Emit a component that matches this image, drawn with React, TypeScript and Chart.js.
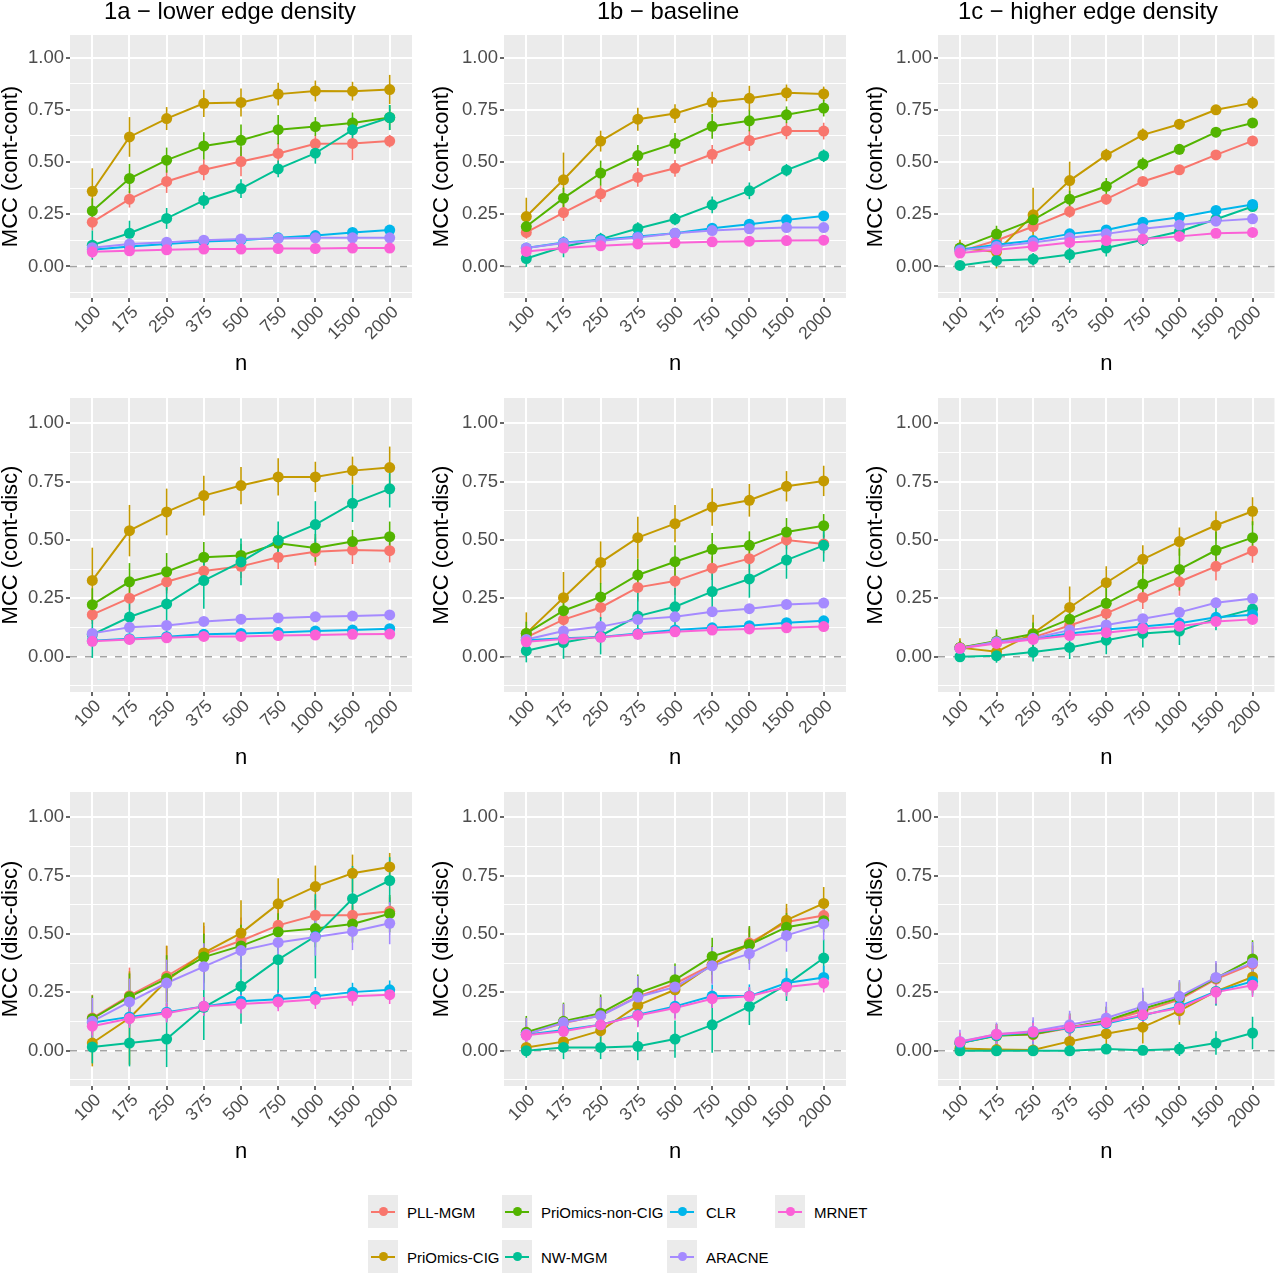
import React, { useEffect, useRef } from "react";
import { Chart, registerables } from "chart.js";

Chart.register(...registerables);

const FONT = '"Liberation Sans", Arial, Helvetica, sans-serif';

// sample sizes on the x axis
const N_LABELS = ["100", "175", "250", "375", "500", "750", "1000", "1500", "2000"];
const METHODS = ["PLL-MGM", "PriOmics-CIG", "PriOmics-non-CIG", "NW-MGM", "CLR", "ARACNE", "MRNET"];
const COLORS = ["#F8766D", "#C49A00", "#53B400", "#00C094", "#00B6EB", "#A58AFF", "#FB61D7"];

const Y_MIN = -0.151;
const Y_MAX = 1.108;
const Y_GRID = [-0.125, 0, 0.125, 0.25, 0.375, 0.5, 0.625, 0.75, 0.875, 1.0];

const COL_TITLES = ["1a \u2212 lower edge density", "1b \u2212 baseline", "1c \u2212 higher edge density"];
const ROW_TITLES = ["MCC (cont-cont)", "MCC (cont-disc)", "MCC (disc-disc)"];

// mean MCC, rows follow METHODS order
const CC_LOW = [
  [0.212, 0.322, 0.407, 0.463, 0.502, 0.541, 0.587, 0.589, 0.600],
  [0.360, 0.620, 0.708, 0.781, 0.785, 0.825, 0.840, 0.839, 0.847],
  [0.266, 0.421, 0.509, 0.577, 0.604, 0.655, 0.670, 0.687, 0.713],
  [0.102, 0.159, 0.230, 0.316, 0.373, 0.467, 0.542, 0.654, 0.713],
  [0.080, 0.095, 0.108, 0.120, 0.126, 0.137, 0.148, 0.163, 0.174],
  [0.090, 0.107, 0.116, 0.126, 0.131, 0.134, 0.137, 0.137, 0.137],
  [0.070, 0.075, 0.080, 0.083, 0.083, 0.086, 0.086, 0.088, 0.088],
];
const CC_LOW_ERR = [
  [0.04, 0.04, 0.055, 0.05, 0.07, 0.05, 0.04, 0.08, 0.03],
  [0.11, 0.095, 0.055, 0.065, 0.067, 0.055, 0.05, 0.045, 0.07],
  [0.06, 0.07, 0.06, 0.065, 0.075, 0.07, 0.045, 0.05, 0.06],
  [0.07, 0.06, 0.05, 0.04, 0.045, 0.04, 0.05, 0.06, 0.06],
  [0.02, 0.015, 0.015, 0.015, 0.015, 0.015, 0.015, 0.015, 0.015],
  [0.02, 0.015, 0.015, 0.015, 0.015, 0.015, 0.015, 0.015, 0.015],
  [0.03, 0.015, 0.01, 0.01, 0.01, 0.01, 0.01, 0.01, 0.01],
];

const CC_BASE = [
  [0.163, 0.258, 0.348, 0.426, 0.470, 0.537, 0.603, 0.649, 0.648],
  [0.239, 0.415, 0.600, 0.705, 0.732, 0.786, 0.805, 0.831, 0.826],
  [0.191, 0.327, 0.447, 0.531, 0.589, 0.671, 0.697, 0.726, 0.758],
  [0.038, 0.094, 0.131, 0.182, 0.227, 0.295, 0.362, 0.461, 0.530],
  [0.088, 0.115, 0.128, 0.144, 0.159, 0.183, 0.202, 0.223, 0.242],
  [0.088, 0.112, 0.123, 0.139, 0.159, 0.172, 0.180, 0.186, 0.186],
  [0.072, 0.088, 0.099, 0.108, 0.113, 0.118, 0.121, 0.124, 0.126],
];
const CC_BASE_ERR = [
  [0.03, 0.04, 0.04, 0.045, 0.04, 0.045, 0.05, 0.04, 0.04],
  [0.09, 0.13, 0.05, 0.055, 0.045, 0.05, 0.06, 0.04, 0.035],
  [0.04, 0.05, 0.06, 0.05, 0.05, 0.06, 0.05, 0.04, 0.04],
  [0.04, 0.05, 0.03, 0.03, 0.03, 0.04, 0.04, 0.03, 0.03],
  [0.015, 0.015, 0.015, 0.015, 0.015, 0.015, 0.015, 0.015, 0.015],
  [0.015, 0.015, 0.015, 0.015, 0.015, 0.015, 0.015, 0.015, 0.015],
  [0.01, 0.01, 0.01, 0.01, 0.01, 0.01, 0.01, 0.01, 0.01],
];

const CC_HIGH = [
  [0.072, 0.124, 0.191, 0.263, 0.322, 0.407, 0.463, 0.534, 0.601],
  [0.088, 0.070, 0.247, 0.411, 0.533, 0.630, 0.681, 0.750, 0.783],
  [0.088, 0.155, 0.223, 0.322, 0.384, 0.491, 0.561, 0.643, 0.687],
  [0.005, 0.029, 0.035, 0.057, 0.088, 0.128, 0.167, 0.226, 0.287],
  [0.080, 0.104, 0.124, 0.156, 0.175, 0.212, 0.236, 0.268, 0.297],
  [0.077, 0.096, 0.115, 0.137, 0.156, 0.180, 0.198, 0.217, 0.228],
  [0.064, 0.080, 0.096, 0.115, 0.124, 0.131, 0.144, 0.159, 0.163],
];
const CC_HIGH_ERR = [
  [0.02, 0.03, 0.03, 0.03, 0.025, 0.02, 0.02, 0.02, 0.02],
  [0.04, 0.08, 0.13, 0.09, 0.03, 0.03, 0.025, 0.02, 0.03],
  [0.03, 0.04, 0.04, 0.04, 0.04, 0.03, 0.025, 0.025, 0.02],
  [0.02, 0.03, 0.03, 0.04, 0.04, 0.03, 0.03, 0.03, 0.02],
  [0.015, 0.015, 0.015, 0.015, 0.015, 0.015, 0.015, 0.015, 0.015],
  [0.015, 0.015, 0.015, 0.015, 0.015, 0.015, 0.015, 0.015, 0.015],
  [0.015, 0.015, 0.015, 0.015, 0.015, 0.015, 0.015, 0.015, 0.015],
];

const CD_LOW = [
  [0.180, 0.251, 0.321, 0.367, 0.387, 0.426, 0.450, 0.457, 0.454],
  [0.327, 0.540, 0.620, 0.690, 0.733, 0.770, 0.770, 0.797, 0.810],
  [0.223, 0.321, 0.364, 0.426, 0.434, 0.486, 0.466, 0.493, 0.514],
  [0.095, 0.170, 0.226, 0.326, 0.406, 0.499, 0.566, 0.657, 0.719],
  [0.069, 0.077, 0.086, 0.096, 0.100, 0.104, 0.110, 0.114, 0.120],
  [0.100, 0.126, 0.134, 0.151, 0.161, 0.166, 0.171, 0.174, 0.179],
  [0.066, 0.074, 0.081, 0.087, 0.087, 0.091, 0.093, 0.096, 0.097],
];
const CD_LOW_ERR = [
  [0.04, 0.05, 0.05, 0.04, 0.05, 0.05, 0.06, 0.06, 0.05],
  [0.14, 0.11, 0.1, 0.085, 0.08, 0.08, 0.065, 0.06, 0.09],
  [0.07, 0.08, 0.08, 0.065, 0.05, 0.05, 0.06, 0.05, 0.065],
  [0.1, 0.07, 0.12, 0.12, 0.1, 0.08, 0.1, 0.08, 0.08],
  [0.015, 0.015, 0.015, 0.015, 0.015, 0.015, 0.015, 0.015, 0.015],
  [0.015, 0.015, 0.015, 0.015, 0.015, 0.015, 0.015, 0.015, 0.015],
  [0.015, 0.015, 0.015, 0.015, 0.015, 0.015, 0.015, 0.015, 0.015],
];

const CD_BASE = [
  [0.083, 0.159, 0.211, 0.297, 0.324, 0.379, 0.420, 0.500, 0.483],
  [0.100, 0.253, 0.404, 0.510, 0.570, 0.641, 0.670, 0.730, 0.753],
  [0.100, 0.197, 0.256, 0.350, 0.407, 0.460, 0.477, 0.534, 0.561],
  [0.026, 0.061, 0.090, 0.174, 0.214, 0.279, 0.333, 0.414, 0.477],
  [0.071, 0.079, 0.085, 0.100, 0.114, 0.124, 0.133, 0.146, 0.154],
  [0.074, 0.110, 0.129, 0.160, 0.171, 0.193, 0.206, 0.224, 0.230],
  [0.064, 0.076, 0.083, 0.096, 0.107, 0.114, 0.119, 0.124, 0.129],
];
const CD_BASE_ERR = [
  [0.04, 0.05, 0.05, 0.06, 0.06, 0.05, 0.06, 0.04, 0.04],
  [0.09, 0.11, 0.09, 0.09, 0.08, 0.08, 0.07, 0.065, 0.065],
  [0.05, 0.06, 0.06, 0.07, 0.07, 0.07, 0.06, 0.06, 0.05],
  [0.05, 0.07, 0.08, 0.1, 0.08, 0.09, 0.08, 0.08, 0.07],
  [0.015, 0.015, 0.015, 0.015, 0.015, 0.015, 0.015, 0.015, 0.015],
  [0.02, 0.02, 0.02, 0.02, 0.02, 0.02, 0.02, 0.02, 0.02],
  [0.015, 0.015, 0.015, 0.015, 0.015, 0.015, 0.015, 0.015, 0.015],
];

const CD_HIGH = [
  [0.039, 0.064, 0.083, 0.134, 0.186, 0.254, 0.321, 0.387, 0.453],
  [0.039, 0.021, 0.100, 0.211, 0.317, 0.417, 0.493, 0.563, 0.623],
  [0.039, 0.067, 0.097, 0.161, 0.229, 0.311, 0.374, 0.456, 0.510],
  [0.000, 0.004, 0.020, 0.040, 0.071, 0.100, 0.110, 0.163, 0.204],
  [0.036, 0.061, 0.077, 0.100, 0.117, 0.129, 0.143, 0.169, 0.180],
  [0.036, 0.064, 0.079, 0.114, 0.136, 0.163, 0.190, 0.231, 0.249],
  [0.036, 0.057, 0.074, 0.091, 0.103, 0.120, 0.131, 0.151, 0.160],
];
const CD_HIGH_ERR = [
  [0.03, 0.04, 0.04, 0.05, 0.05, 0.05, 0.06, 0.06, 0.05],
  [0.04, 0.04, 0.08, 0.09, 0.07, 0.06, 0.06, 0.06, 0.06],
  [0.03, 0.05, 0.05, 0.07, 0.07, 0.08, 0.09, 0.08, 0.07],
  [0.02, 0.03, 0.04, 0.05, 0.06, 0.06, 0.06, 0.05, 0.05],
  [0.015, 0.015, 0.015, 0.015, 0.015, 0.015, 0.015, 0.015, 0.015],
  [0.02, 0.02, 0.02, 0.02, 0.02, 0.02, 0.02, 0.02, 0.02],
  [0.015, 0.015, 0.015, 0.015, 0.015, 0.015, 0.015, 0.015, 0.015],
];

const DD_LOW = [
  [0.140, 0.236, 0.319, 0.414, 0.471, 0.537, 0.580, 0.580, 0.597],
  [0.033, 0.140, 0.300, 0.419, 0.504, 0.629, 0.703, 0.760, 0.787],
  [0.137, 0.231, 0.309, 0.401, 0.449, 0.509, 0.523, 0.543, 0.587],
  [0.016, 0.033, 0.050, 0.186, 0.276, 0.390, 0.490, 0.651, 0.729],
  [0.120, 0.145, 0.165, 0.190, 0.212, 0.221, 0.233, 0.251, 0.261],
  [0.126, 0.209, 0.290, 0.360, 0.429, 0.464, 0.487, 0.511, 0.546],
  [0.105, 0.138, 0.161, 0.190, 0.200, 0.209, 0.219, 0.233, 0.240],
];
const DD_LOW_ERR = [
  [0.1, 0.12, 0.13, 0.12, 0.1, 0.08, 0.07, 0.07, 0.06],
  [0.1, 0.2, 0.15, 0.13, 0.14, 0.11, 0.09, 0.08, 0.06],
  [0.1, 0.1, 0.1, 0.1, 0.09, 0.08, 0.08, 0.08, 0.08],
  [0.07, 0.1, 0.12, 0.14, 0.16, 0.17, 0.18, 0.14, 0.1],
  [0.04, 0.04, 0.04, 0.04, 0.04, 0.04, 0.04, 0.04, 0.04],
  [0.1, 0.1, 0.1, 0.1, 0.08, 0.08, 0.08, 0.08, 0.09],
  [0.04, 0.04, 0.04, 0.04, 0.04, 0.04, 0.04, 0.04, 0.04],
];

const DD_BASE = [
  [0.071, 0.119, 0.151, 0.233, 0.287, 0.369, 0.461, 0.551, 0.579],
  [0.014, 0.039, 0.086, 0.194, 0.261, 0.369, 0.454, 0.559, 0.631],
  [0.079, 0.126, 0.161, 0.247, 0.304, 0.404, 0.454, 0.529, 0.557],
  [0.000, 0.014, 0.014, 0.019, 0.050, 0.111, 0.190, 0.283, 0.397],
  [0.069, 0.089, 0.111, 0.154, 0.190, 0.234, 0.234, 0.290, 0.314],
  [0.071, 0.121, 0.150, 0.230, 0.273, 0.364, 0.416, 0.494, 0.543],
  [0.066, 0.083, 0.111, 0.151, 0.183, 0.223, 0.233, 0.273, 0.290],
];
const DD_BASE_ERR = [
  [0.07, 0.08, 0.08, 0.08, 0.07, 0.07, 0.07, 0.06, 0.05],
  [0.03, 0.04, 0.05, 0.08, 0.06, 0.08, 0.07, 0.07, 0.07],
  [0.07, 0.08, 0.08, 0.08, 0.07, 0.08, 0.08, 0.06, 0.05],
  [0.03, 0.05, 0.05, 0.06, 0.08, 0.12, 0.08, 0.07, 0.08],
  [0.04, 0.04, 0.05, 0.05, 0.05, 0.05, 0.05, 0.05, 0.05],
  [0.07, 0.08, 0.08, 0.09, 0.09, 0.08, 0.07, 0.07, 0.07],
  [0.04, 0.04, 0.05, 0.05, 0.05, 0.04, 0.04, 0.04, 0.04],
];

const DD_HIGH = [
  [0.033, 0.066, 0.069, 0.097, 0.126, 0.169, 0.219, 0.307, 0.371],
  [0.010, 0.005, 0.003, 0.040, 0.073, 0.101, 0.171, 0.254, 0.316],
  [0.033, 0.064, 0.071, 0.101, 0.129, 0.180, 0.226, 0.311, 0.393],
  [0.000, 0.000, 0.000, 0.000, 0.007, 0.002, 0.007, 0.033, 0.076],
  [0.033, 0.066, 0.079, 0.097, 0.117, 0.151, 0.190, 0.254, 0.297],
  [0.040, 0.071, 0.083, 0.111, 0.140, 0.190, 0.233, 0.314, 0.376],
  [0.037, 0.071, 0.080, 0.101, 0.121, 0.154, 0.183, 0.251, 0.280],
];
const DD_HIGH_ERR = [
  [0.04, 0.05, 0.05, 0.06, 0.06, 0.07, 0.07, 0.07, 0.08],
  [0.02, 0.01, 0.01, 0.04, 0.05, 0.07, 0.06, 0.06, 0.07],
  [0.04, 0.05, 0.05, 0.06, 0.06, 0.07, 0.07, 0.06, 0.08],
  [0.02, 0.01, 0.01, 0.01, 0.02, 0.02, 0.03, 0.05, 0.07],
  [0.03, 0.04, 0.05, 0.05, 0.06, 0.06, 0.06, 0.06, 0.06],
  [0.05, 0.05, 0.06, 0.06, 0.07, 0.08, 0.07, 0.07, 0.09],
  [0.04, 0.04, 0.04, 0.05, 0.05, 0.05, 0.05, 0.05, 0.05],
];

const PANELS = [
  { row: 0, col: 0, means: CC_LOW, errs: CC_LOW_ERR },
  { row: 0, col: 1, means: CC_BASE, errs: CC_BASE_ERR },
  { row: 0, col: 2, means: CC_HIGH, errs: CC_HIGH_ERR },
  { row: 1, col: 0, means: CD_LOW, errs: CD_LOW_ERR },
  { row: 1, col: 1, means: CD_BASE, errs: CD_BASE_ERR },
  { row: 1, col: 2, means: CD_HIGH, errs: CD_HIGH_ERR },
  { row: 2, col: 0, means: DD_LOW, errs: DD_LOW_ERR },
  { row: 2, col: 1, means: DD_BASE, errs: DD_BASE_ERR },
  { row: 2, col: 2, means: DD_HIGH, errs: DD_HIGH_ERR },
];

// page layout (pixels)
const COLS = [
  { left: 0, width: 430, panelLeft: 70, panelRight: 412, titleX: 230 },
  { left: 431, width: 431, panelLeft: 504, panelRight: 846, titleX: 668 },
  { left: 865, width: 415, panelLeft: 938, panelRight: 1279, titleX: 1088 },
];
const ROWS = [
  { top: 0, height: 392, panelTop: 35, panelBottom: 298 },
  { top: 392, height: 392, panelTop: 398, panelBottom: 692 },
  { top: 784, height: 400, panelTop: 792, panelBottom: 1086 },
];
const X_AXIS_H = 77.4;
const TITLE_BASELINE = 19;

const LEGEND_COL_X = [368, 502, 667, 775];
const LEGEND_ROW_Y = [1195, 1240];

const isMajor = (v: number) => Math.abs(v * 4 - Math.round(v * 4)) < 1e-6;

const panelBackground = {
  id: "panelBackground",
  beforeDraw(chart: any) {
    const { ctx, chartArea: a } = chart;
    ctx.save();
    ctx.fillStyle = "#EBEBEB";
    ctx.fillRect(a.left, a.top, a.right - a.left, a.bottom - a.top);
    ctx.restore();
  },
};

const zeroLine = {
  id: "zeroLine",
  beforeDatasetsDraw(chart: any) {
    const { ctx, chartArea: a } = chart;
    const y = chart.scales.y.getPixelForValue(0);
    ctx.save();
    ctx.strokeStyle = "#A3A3A3";
    ctx.lineWidth = 1.6;
    ctx.setLineDash([7, 8]);
    ctx.beginPath();
    ctx.moveTo(a.left, y);
    ctx.lineTo(a.right, y);
    ctx.stroke();
    ctx.restore();
  },
};

const errorBars = {
  id: "errorBars",
  beforeDatasetsDraw(chart: any) {
    chart.$errDone = false;
  },
  beforeDatasetDraw(chart: any, args: any) {
    const ds: any = chart.data.datasets[args.index];
    if (!ds.isPoint || chart.$errDone) return;
    chart.$errDone = true;
    const { ctx, chartArea: a } = chart;
    const xs = chart.scales.x;
    const ys = chart.scales.y;
    ctx.save();
    ctx.beginPath();
    ctx.rect(a.left, a.top, a.right - a.left, a.bottom - a.top);
    ctx.clip();
    ctx.lineWidth = 1.6;
    chart.data.datasets.forEach((d: any) => {
      if (!d.isPoint) return;
      ctx.strokeStyle = d.borderColor;
      d.data.forEach((p: any, i: number) => {
        const e = d.err[i];
        const x = xs.getPixelForValue(p.x);
        ctx.beginPath();
        ctx.moveTo(x, ys.getPixelForValue(p.y - e));
        ctx.lineTo(x, ys.getPixelForValue(p.y + e));
        ctx.stroke();
      });
    });
    ctx.restore();
  },
};

const panelTitle = {
  id: "panelTitle",
  afterDraw(chart: any, _args: any, opts: any) {
    if (!opts || !opts.text) return;
    const { ctx } = chart;
    ctx.save();
    ctx.font = `23.8px ${FONT}`;
    ctx.fillStyle = "#000000";
    ctx.textAlign = "center";
    ctx.textBaseline = "alphabetic";
    ctx.fillText(opts.text, opts.x, opts.y);
    ctx.restore();
  },
};

function PanelChart({ panel }: { panel: any }) {
  const ref = useRef<HTMLCanvasElement | null>(null);
  const col = COLS[panel.col];
  const row = ROWS[panel.row];

  useEffect(() => {
    const canvas = ref.current;
    if (!canvas) return;
    const padTop = row.panelTop - row.top;
    const padBottom = row.height - (row.panelBottom - row.top) - X_AXIS_H;
    const padRight = col.left + col.width - col.panelRight;
    const yAxisW = col.panelLeft - col.left;

    const lineSets = panel.means.map((vals: number[], k: number) => ({
      label: METHODS[k],
      data: vals.map((v, i) => ({ x: i, y: v })),
      borderColor: COLORS[k],
      backgroundColor: COLORS[k],
      borderWidth: 2,
      pointRadius: 0,
      pointHoverRadius: 0,
      fill: false,
      tension: 0,
      order: 100 + (6 - k),
      isPoint: false,
    }));
    const pointSets = panel.means.map((vals: number[], k: number) => ({
      label: METHODS[k],
      data: vals.map((v, i) => ({ x: i, y: v })),
      borderColor: COLORS[k],
      backgroundColor: COLORS[k],
      showLine: false,
      pointRadius: 5.5,
      pointHoverRadius: 5.5,
      pointBorderWidth: 0,
      pointBackgroundColor: COLORS[k],
      order: 6 - k,
      isPoint: true,
      err: panel.errs[k],
    }));

    const xTickFont = { family: FONT, size: 17.5 };
    const yTickFont = { family: FONT, size: 18.5 };
    const titleFont = { family: FONT, size: 22, lineHeight: 1 };

    const chart = new Chart(canvas, {
      type: "line",
      data: { datasets: [...lineSets, ...pointSets] },
      options: {
        animation: false,
        responsive: false,
        devicePixelRatio: 1,
        events: [],
        layout: { padding: { top: padTop, bottom: padBottom, left: 0, right: padRight } },
        plugins: {
          legend: { display: false },
          tooltip: { enabled: false },
          title: { display: false },
          panelTitle:
            panel.row === 0
              ? { text: COL_TITLES[panel.col], x: col.titleX - col.left, y: TITLE_BASELINE }
              : { text: "" },
        },
        scales: {
          x: {
            type: "linear",
            min: -0.6,
            max: 8.6,
            afterBuildTicks: (s: any) => {
              s.ticks = N_LABELS.map((_, i) => ({ value: i }));
            },
            afterFit: (s: any) => {
              s.height = X_AXIS_H;
              s.paddingLeft = 0;
              s.paddingRight = 0;
              s.paddingTop = 0;
              s.paddingBottom = 0;
            },
            grid: {
              color: "#FFFFFF",
              lineWidth: 2,
              drawTicks: true,
              tickLength: 4,
              tickColor: "#333333",
              tickWidth: 1.5,
            },
            border: { display: false },
            ticks: {
              autoSkip: false,
              maxRotation: 45,
              minRotation: 45,
              padding: 0,
              labelOffset: 6,
              color: "#4D4D4D",
              font: xTickFont,
              callback: (v: any) => N_LABELS[Math.round(v)] ?? "",
            },
            title: { display: true, text: "n", color: "#000000", font: titleFont, padding: 0 },
          },
          y: {
            type: "linear",
            min: Y_MIN,
            max: Y_MAX,
            afterBuildTicks: (s: any) => {
              s.ticks = Y_GRID.map((v) => ({ value: v }));
            },
            afterFit: (s: any) => {
              s.width = yAxisW;
              s.paddingLeft = 0;
              s.paddingRight = 0;
              s.paddingTop = 0;
              s.paddingBottom = 0;
            },
            grid: {
              color: "#FFFFFF",
              lineWidth: (ctx: any) => (ctx.tick && isMajor(ctx.tick.value) ? 2 : 1),
              drawTicks: true,
              tickLength: 4,
              tickWidth: 1.5,
              tickColor: (ctx: any) =>
                ctx.tick && isMajor(ctx.tick.value) && ctx.tick.value >= 0 ? "#333333" : "rgba(0,0,0,0)",
            },
            border: { display: false },
            ticks: {
              autoSkip: false,
              padding: 2,
              color: "#4D4D4D",
              font: yTickFont,
              callback: (v: any) => (isMajor(v) && v >= 0 ? Number(v).toFixed(2) : ""),
            },
            title: { display: true, text: ROW_TITLES[panel.row], color: "#000000", font: titleFont, padding: 0 },
          },
        },
      } as any,
      plugins: [panelBackground, zeroLine, errorBars, panelTitle],
    });
    return () => chart.destroy();
  }, []);

  return (
    <canvas
      ref={ref}
      width={col.width}
      height={row.height}
      style={{ position: "absolute", left: col.left, top: row.top, width: col.width, height: row.height }}
    />
  );
}

function LegendKey({ k }: { k: number }) {
  const col = Math.floor(k / 2);
  const row = k % 2;
  const x = LEGEND_COL_X[col];
  const y = LEGEND_ROW_Y[row];
  return (
    <>
      <div style={{ position: "absolute", left: x, top: y, width: 30, height: 33, background: "#EBEBEB" }}>
        <div style={{ position: "absolute", left: 3, top: 15.5, width: 24, height: 2, background: COLORS[k] }} />
        <div
          style={{
            position: "absolute",
            left: 10.5,
            top: 12,
            width: 9,
            height: 9,
            borderRadius: "50%",
            background: COLORS[k],
          }}
        />
      </div>
      <div
        style={{
          position: "absolute",
          left: x + 39,
          top: y + 16.5,
          transform: "translateY(-50%)",
          fontFamily: FONT,
          fontSize: 15,
          lineHeight: 1,
          color: "#000000",
          whiteSpace: "nowrap",
        }}
      >
        {METHODS[k]}
      </div>
    </>
  );
}

export default function App() {
  return (
    <div
      style={{
        position: "absolute",
        left: 0,
        top: 0,
        width: 1280,
        height: 1275,
        background: "#FFFFFF",
        overflow: "hidden",
      }}
    >
      {PANELS.map((p, i) => (
        <PanelChart key={i} panel={p} />
      ))}
      {METHODS.map((_, k) => (
        <LegendKey key={k} k={k} />
      ))}
    </div>
  );
}
